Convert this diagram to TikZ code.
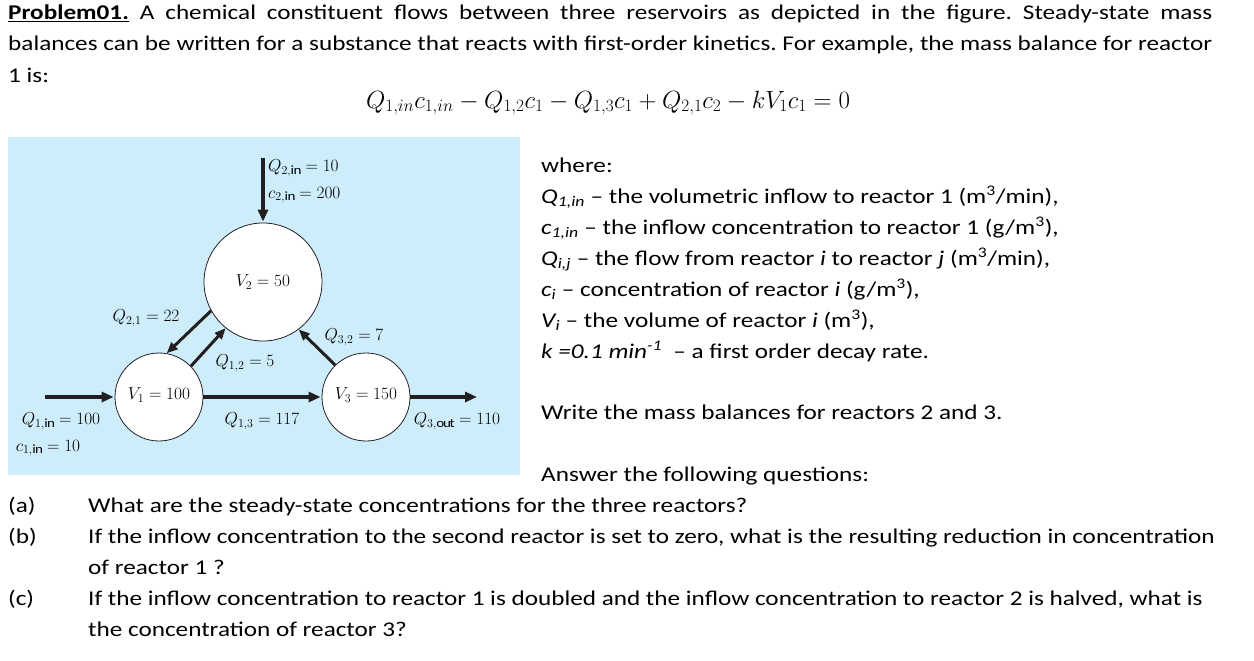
\documentclass[tikz,border=0pt]{standalone}
\usepackage{fontspec}
\setmainfont{Carlito}[FakeStretch=1.2]
\usetikzlibrary{arrows.meta}
\frenchspacing
\definecolor{bgblue}{RGB}{206,237,251}
\definecolor{arr}{RGB}{35,31,32}
\tikzset{
 txt/.style={anchor=base west,inner sep=0pt,font=\fontsize{21}{31}\selectfont},
 lab/.style={inner sep=0pt,font=\fontsize{18}{20}\selectfont},
 tank/.style={circle,draw=arr,fill=white,line width=0.8pt,inner sep=0pt},
 flow/.style={draw=arr,line width=4pt,-{Triangle[length=12pt,width=10pt]},shorten >=1pt},
 sflow/.style={draw=arr,line width=3pt,-{Triangle[length=11pt,width=9pt]}}
}
\begin{document}
\begin{tikzpicture}[x=1pt,y=-1pt]
\useasboundingbox (0,0) rectangle (1254,661);
\fill[white] (0,0) rectangle (1254,661);
\node[txt] (i1) at (8,20) {\makebox[1204pt][s]{\textbf{\underline{Problem01.}} A chemical constituent flows between three reservoirs as depicted in the figure. Steady-state mass}};
\node[txt] (i2) at (8,51) {\makebox[1204pt][s]{balances can be written for a substance that reacts with first-order kinetics. For example, the mass balance for reactor}};
\node[txt] (i3) at (8,82) {1 is:};
\node[inner sep=0pt,font=\fontsize{26}{30}\selectfont] (eq) at (608,103) {$Q_{1,in}c_{1,in}-Q_{1,2}c_1-Q_{1,3}c_1+Q_{2,1}c_2-kV_1c_1=0$};
\fill[bgblue] (8,137) rectangle (520,475);
% tanks
\node[tank,minimum size=118pt] (V2) at (263,282) {};
\node[tank,minimum size=88pt] (V1) at (159,397) {};
\node[tank,minimum size=88pt] (V3) at (366,397) {};
\node[lab] (l2) at (263,282) {$V_2=50$};
\node[lab] (l1) at (159,395) {$V_1=100$};
\node[lab] (l3) at (366,395) {$V_3=150$};
\coordinate (in2) at (263,158);
\coordinate (in1) at (45,397);
\coordinate (out3) at (478,397);
\draw[flow] (in2) -- (V2.north);
\draw[flow] (in1) -- (V1.west);
\draw[flow] (V1.east) -- (V3.west);
\draw[flow] (V3.east) -- (out3);
\draw[sflow] (V2.209) -- (V1.80);
\draw[sflow] (V1.44) -- (V2.231);
\draw[sflow] (V3.134) -- (V2.307);
\node[lab,anchor=west] (q2in) at (268,168) {$Q_{2,\mathrm{in}}=10$};
\node[lab,anchor=west] (c2in) at (268,195) {$c_{2,\mathrm{in}}=200$};
\node[lab] (q21) at (146,318) {$Q_{2,1}=22$};
\node[lab] (q12) at (245,363) {$Q_{1,2}=5$};
\node[lab] (q32) at (354,337) {$Q_{3,2}=7$};
\node[lab] (q1in) at (61,421) {$Q_{1,\mathrm{in}}=100$};
\node[lab] (c1in) at (48,448) {$c_{1,\mathrm{in}}=10$};
\node[lab] (q13) at (262,421) {$Q_{1,3}=117$};
\node[lab] (q3out) at (457,421) {$Q_{3,\mathrm{out}}=110$};
% right text
\node[txt] (w0) at (541,172) {where:};
\node[txt] (w1) at (541,203) {\textit{Q\textsubscript{1,in}} -- the volumetric inflow to reactor 1 (m\textsuperscript{3}/min),};
\node[txt] (w2) at (541,234) {\textit{c\textsubscript{1,in}} -- the inflow concentration to reactor 1 (g/m\textsuperscript{3}),};
\node[txt] (w3) at (541,265) {\textit{Q\textsubscript{i,j}} -- the flow from reactor \textit{i} to reactor \textit{j} (m\textsuperscript{3}/min),};
\node[txt] (w4) at (541,296) {\textit{c\textsubscript{i}} -- concentration of reactor \textit{i} (g/m\textsuperscript{3}),};
\node[txt] (w5) at (541,327) {\textit{V\textsubscript{i}} -- the volume of reactor \textit{i} (m\textsuperscript{3}),};
\node[txt] (w6) at (541,358) {\textit{k =0.1 min\textsuperscript{-1}} \ -- a first order decay rate.};
\node[txt] (w7) at (541,419) {Write the mass balances for reactors 2 and 3.};
\node[txt] (w8) at (541,481) {Answer the following questions:};
\node[txt] (a) at (8,512) {(a)};
\node[txt] (at) at (88,512) {What are the steady-state concentrations for the three reactors?};
\node[txt] (b) at (8,543) {(b)};
\node[txt] (bt) at (88,543) {If the inflow concentration to the second reactor is set to zero, what is the resulting reduction in concentration};
\node[txt] (bt2) at (88,574) {of reactor 1 ?};
\node[txt] (c) at (8,605) {(c)};
\node[txt] (ct) at (88,605) {If the inflow concentration to reactor 1 is doubled and the inflow concentration to reactor 2 is halved, what is};
\node[txt] (ct2) at (88,636) {the concentration of reactor 3?};
\end{tikzpicture}
\end{document}
